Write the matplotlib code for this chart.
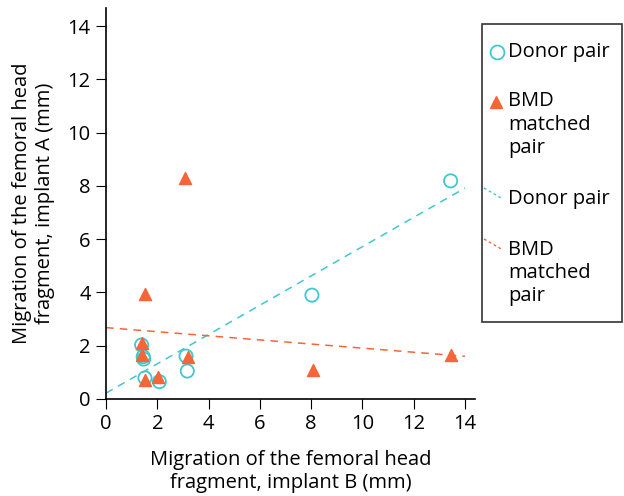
import matplotlib
matplotlib.use("Agg")
import matplotlib.pyplot as plt
from matplotlib.lines import Line2D
from matplotlib.patches import Rectangle
import numpy as np

plt.rcParams['font.family'] = ['Open Sans', 'DejaVu Sans']

# Donor pair: implant B (x) vs implant A (y)
donor_b = [1.39, 1.45, 1.47, 1.52, 2.08, 3.12, 3.17, 8.03, 13.44]
donor_a = [2.03, 1.59, 1.50, 0.79, 0.65, 1.61, 1.05, 3.90, 8.19]

# BMD matched pair
bmd_b = [1.39, 1.39, 1.52, 1.52, 2.04, 3.08, 3.19, 8.07, 13.46]
bmd_a = [2.09, 1.65, 3.94, 0.71, 0.81, 8.30, 1.57, 1.09, 1.65]

# Trend lines (intercept, slope)
donor_fit = (0.22, 0.550)
bmd_fit = (2.68, -0.077)

legend_labels = ["Donor pair", "BMD\nmatched\npair", "Donor pair", "BMD\nmatched\npair"]

cyan = '#3ec8d0'
orange = '#f4663a'
W, H = 624, 496

fig = plt.figure(figsize=(6.24, 4.96), dpi=100)
ax = fig.add_axes([106 / W, 97 / H, 369 / W, 391 / H])

xs = np.array([0, 14])
ax.plot(xs, donor_fit[0] + donor_fit[1] * xs, ls=(0, (5, 4)), color=cyan, lw=1.1)
ax.plot(xs, bmd_fit[0] + bmd_fit[1] * xs, ls=(0, (5, 4)), color=orange, lw=1.1)
ax.scatter(donor_b, donor_a, s=90, facecolors='none', edgecolors=cyan, linewidths=1.3, zorder=3)
ax.scatter(bmd_b, bmd_a, s=75, marker='^', color=orange, zorder=4)

ax.set_xlim(0, 14.39)
ax.set_ylim(0, 14.68)
ax.set_xticks(range(0, 15, 2))
ax.set_yticks(range(0, 15, 2))
ax.spines['top'].set_visible(False)
ax.spines['right'].set_visible(False)
ax.spines['left'].set_linewidth(1.2)
ax.spines['bottom'].set_linewidth(1.2)
ax.tick_params(labelsize=14.5, length=7, direction='out', pad=4)
ax.set_xlabel("Migration of the femoral head\nfragment, implant B (mm)", fontsize=14.5, labelpad=11)
ax.set_ylabel("Migration of the femoral head\nfragment, implant A (mm)", fontsize=14.5, labelpad=9)

# legend box drawn by hand so the symbol sits on the first line of each label
def fx(px):
    return px / W

def fy(py):
    return 1 - py / H

fig.patches.append(Rectangle((fx(481.5), fy(322)), fx(622 - 481.5), (322 - 24) / H,
                             transform=fig.transFigure, fill=False,
                             edgecolor='#333333', lw=1.2))

centers = [52, 101.5, 199, 250]
for lab, cy in zip(legend_labels, centers):
    fig.text(fx(508), fy(cy - 10), lab, fontsize=14.5, va='top', ha='left',
             linespacing=1.2)

fig.add_artist(Line2D([fx(497)], [fy(centers[0])], marker='o', ms=10, mfc='none',
                      mec=cyan, mew=1.3, transform=fig.transFigure))
fig.add_artist(Line2D([fx(496)], [fy(centers[1])], marker='^', ms=8.5, color=orange,
                      transform=fig.transFigure))
for cy, col in [(centers[2], cyan), (centers[3], orange)]:
    fig.add_artist(Line2D([fx(484), fx(503)], [fy(cy - 11), fy(cy)], ls=(0, (2, 2)),
                          color=col, lw=1.0, transform=fig.transFigure))

fig.savefig("out.png", dpi=100)
